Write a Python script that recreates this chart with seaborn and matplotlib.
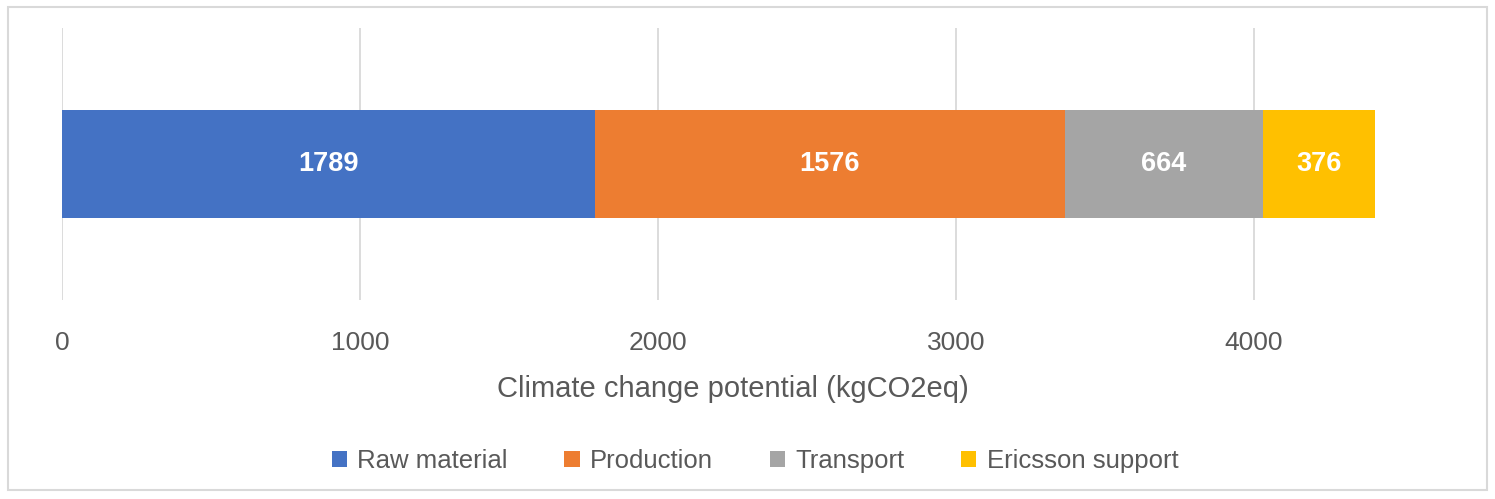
import numpy as np
import pandas as pd
import matplotlib
matplotlib.use("Agg")
import matplotlib.pyplot as plt
from matplotlib.patches import Patch, Rectangle
import seaborn as sns

# --- datos ---
etapas = ["Raw material", "Production", "Transport", "Ericsson support"]
valores = [1789, 1576, 664, 376]
colores = ["#4472C4", "#ED7D31", "#A5A5A5", "#FFC000"]
ticks_x = [0, 1000, 2000, 3000, 4000]
etiqueta_x = "Climate change potential (kgCO2eq)"

sns.set_style("white")
plt.rcParams["font.family"] = ["Liberation Sans", "DejaVu Sans"]

fig = plt.figure(figsize=(14.95, 4.99), dpi=100)
ax = fig.add_axes([62 / 1495, 199 / 499, 1341 / 1495, 272 / 499])

acumulado = np.cumsum(valores)
df = pd.DataFrame({"etapa": etapas, "acum": acumulado, "fila": [""] * len(etapas)})

# Barras apiladas: dibujamos del total hacia atrás
for i in reversed(range(len(etapas))):
    sns.barplot(data=df.iloc[[i]], x="acum", y="fila", orient="h",
                color=colores[i], saturation=1, width=0.4, ax=ax, zorder=3,
                linewidth=0)

# Etiquetas de cada segmento
inicio = acumulado - np.array(valores)
for v, x0 in zip(valores, inicio):
    ax.text(x0 + v / 2, 0, str(v), ha="center", va="center", color="white",
            fontsize=19.5, fontweight="bold", zorder=4)

ax.set_xlim(0, 4500)
ax.set_ylim(0.5, -0.5)
ax.set_xticks(ticks_x)
ax.set_xticklabels([str(t) for t in ticks_x])
ax.tick_params(axis="x", length=0, pad=22, labelsize=19, labelcolor="#595959")
ax.set_yticks([])
ax.set_ylabel("")
ax.set_xlabel(etiqueta_x, fontsize=21, color="#595959", labelpad=15)
ax.grid(axis="x", color="#D9D9D9", linewidth=1.3, zorder=0)
ax.set_axisbelow(True)
for s in ax.spines.values():
    s.set_visible(False)

handles = [Patch(facecolor=c, edgecolor="none") for c in colores]
fig.legend(handles, etapas, loc="center", bbox_to_anchor=(755 / 1495, 1 - 461 / 499),
           ncol=4, frameon=False, fontsize=18.5, labelcolor="#595959",
           handlelength=0.6, handleheight=0.6, handletextpad=0.4, columnspacing=2.2)

# Marco del gráfico
fig.patches.append(Rectangle((8 / 1495, 1 - 490 / 499), 1479 / 1495, 483 / 499,
                             transform=fig.transFigure, fill=False,
                             edgecolor="#D9D9D9", linewidth=1.5))

fig.savefig("out.png", dpi=100)
